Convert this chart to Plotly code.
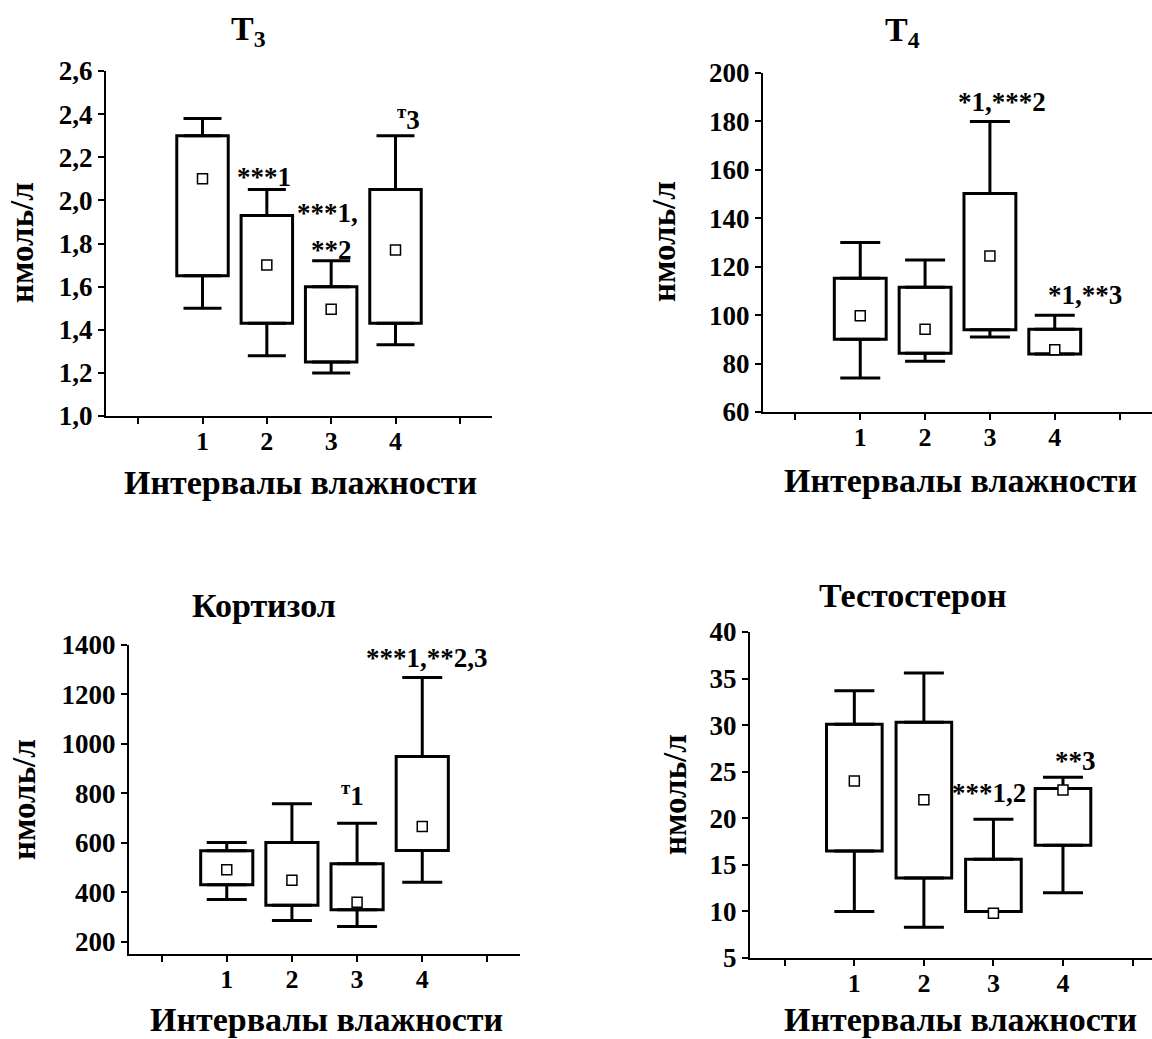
import plotly.graph_objects as go

W, H = 1152, 1039
FONT = "Liberation Serif"

cats = [1, 2, 3, 4]
x_tickvals = [1, 2, 3, 4]
x_ticktext = ["1", "2", "3", "4"]
x_minor_ticks = [0, 1, 2, 3, 4, 5]

# T3
t3_low = [1.50, 1.28, 1.20, 1.33]
t3_q1 = [1.65, 1.43, 1.25, 1.43]
t3_med = [2.10, 1.70, 1.495, 1.77]
t3_q3 = [2.30, 1.93, 1.60, 2.05]
t3_high = [2.38, 2.05, 1.72, 2.30]
t3_yticks = [1.0, 1.2, 1.4, 1.6, 1.8, 2.0, 2.2, 2.4, 2.6]
t3_ytext = ["1,0", "1,2", "1,4", "1,6", "1,8", "2,0", "2,2", "2,4", "2,6"]
t3_ann_text = ["***1", "***1,", "**2", "<sup>т</sup>3"]
t3_ann_x = [1.96, 2.95, 3.01, 4.2]
t3_ann_y = [2.11, 1.94, 1.77, 2.38]

# T4
t4_low = [74, 81, 91, 84]
t4_q1 = [90, 84.3, 94, 84]
t4_med = [99.8, 94.2, 124.4, 85.7]
t4_q3 = [115.2, 111.5, 150.2, 94.2]
t4_high = [130, 122.8, 180, 100]
t4_yticks = [60, 80, 100, 120, 140, 160, 180, 200]
t4_ann_text = ["*1,***2", "*1,**3"]
t4_ann_x = [3.19, 4.47]
t4_ann_y = [188, 108.4]

# Cortisol
cort_low = [370, 286, 261, 440]
cort_q1 = [430, 347, 329, 569]
cort_med = [491, 448, 359, 666]
cort_q3 = [568, 601, 515, 949]
cort_high = [601, 758, 679, 1269]
cort_yticks = [200, 400, 600, 800, 1000, 1200, 1400]
cort_ann_text = ["<sup>т</sup>1", "***1,**2,3"]
cort_ann_x = [2.93, 4.07]
cort_ann_y = [798, 1349]

# Testosterone
test_low = [10, 8.3, 10, 12]
test_q1 = [16.5, 13.6, 10, 17.1]
test_med = [24, 22, 9.8, 23.05]
test_q3 = [30.1, 30.3, 15.6, 23.2]
test_high = [33.7, 35.6, 19.9, 24.4]
test_yticks = [5, 10, 15, 20, 25, 30, 35, 40]
test_ann_text = ["***1,2", "**3"]
test_ann_x = [2.93, 4.18]
test_ann_y = [22.7, 26.1]

titles = ["T<sub>3</sub>", "T<sub>4</sub>", "Кортизол", "Тестостерон"]
xtitle = "Интервалы влажности"
ytitle = "нмоль/л"

def px_x(p):
    return p / W

def px_y(p):
    return 1 - p / H

panels = [
    dict(low=t3_low, q1=t3_q1, med=t3_med, q3=t3_q3, high=t3_high,
         yticks=t3_yticks, ytext=t3_ytext, yrange=[1.0, 2.6], xrange=[-0.5, 5.5],
         xdom=[106, 492], ydom=[416, 71], cap=19,
         ann=(t3_ann_text, t3_ann_x, t3_ann_y),
         title_pos=(248, 31), xt_pos=(300, 483), yt_pos=(22, 243)),
    dict(low=t4_low, q1=t4_q1, med=t4_med, q3=t4_q3, high=t4_high,
         yticks=t4_yticks, ytext=[str(v) for v in t4_yticks], yrange=[60, 200], xrange=[-0.5, 5.5],
         xdom=[763, 1152], ydom=[412, 73], cap=20,
         ann=(t4_ann_text, t4_ann_x, t4_ann_y),
         title_pos=(902, 32), xt_pos=(960, 480), yt_pos=(664, 242)),
    dict(low=cort_low, q1=cort_q1, med=cort_med, q3=cort_q3, high=cort_high,
         yticks=cort_yticks, ytext=[str(v) for v in cort_yticks], yrange=[150, 1400], xrange=[-0.5, 5.5],
         xdom=[129, 520], ydom=[954, 645], cap=20,
         ann=(cort_ann_text, cort_ann_x, cort_ann_y),
         title_pos=(264, 605), xt_pos=(326, 1019), yt_pos=(24, 800)),
    dict(low=test_low, q1=test_q1, med=test_med, q3=test_q3, high=test_high,
         yticks=test_yticks, ytext=[str(v) for v in test_yticks], yrange=[5, 40], xrange=[-0.5, 5.28],
         xdom=[750, 1152], ydom=[958, 632], cap=20,
         ann=(test_ann_text, test_ann_x, test_ann_y),
         title_pos=(913, 595), xt_pos=(960, 1019), yt_pos=(675, 795)),
]

fig = go.Figure()
annotations = []
layout_axes = {}

for i, p in enumerate(panels, start=1):
    xa = "x" if i == 1 else f"x{i}"
    ya = "y" if i == 1 else f"y{i}"
    # Box (interquartile range) as bars
    fig.add_trace(go.Bar(
        x=cats, y=[b - a for a, b in zip(p["q1"], p["q3"])], base=p["q1"],
        width=0.8, marker=dict(color="white", line=dict(color="black", width=3)),
        xaxis=xa, yaxis=ya, showlegend=False, hoverinfo="skip"))
    # Upper whiskers
    fig.add_trace(go.Scatter(
        x=cats, y=p["q3"], mode="markers",
        marker=dict(size=1, color="rgba(0,0,0,0)"),
        error_y=dict(type="data", symmetric=False,
                     array=[h - q for h, q in zip(p["high"], p["q3"])],
                     arrayminus=[0] * 4, color="black", thickness=3, width=p["cap"]),
        xaxis=xa, yaxis=ya, showlegend=False, hoverinfo="skip"))
    # Lower whiskers
    fig.add_trace(go.Scatter(
        x=cats, y=p["q1"], mode="markers",
        marker=dict(size=1, color="rgba(0,0,0,0)"),
        error_y=dict(type="data", symmetric=False,
                     array=[0] * 4,
                     arrayminus=[q - l for q, l in zip(p["q1"], p["low"])],
                     color="black", thickness=3, width=p["cap"]),
        xaxis=xa, yaxis=ya, showlegend=False, hoverinfo="skip"))
    # Median markers
    fig.add_trace(go.Scatter(
        x=cats, y=p["med"], mode="markers",
        marker=dict(symbol="square", size=10, color="white",
                    line=dict(color="black", width=1.5)),
        xaxis=xa, yaxis=ya, showlegend=False, hoverinfo="skip"))

    xkey = "xaxis" if i == 1 else f"xaxis{i}"
    ykey = "yaxis" if i == 1 else f"yaxis{i}"
    layout_axes[xkey] = dict(
        domain=[px_x(p["xdom"][0]), px_x(p["xdom"][1])], anchor=ya, automargin=False,
        range=p["xrange"], tickmode="array", tickvals=x_tickvals, ticktext=x_ticktext,
        showline=True, linecolor="black", linewidth=2, ticks="",
        showgrid=False, zeroline=False, ticklabelstandoff=1,
        minor=dict(tickmode="array", tickvals=x_minor_ticks, ticks="outside",
                   ticklen=6, tickwidth=2, tickcolor="black", showgrid=False),
        tickfont=dict(family=FONT, size=26, color="black", weight="bold"))
    layout_axes[ykey] = dict(
        domain=[px_y(p["ydom"][0]), px_y(p["ydom"][1])], anchor=xa, automargin=False,
        range=p["yrange"], tickmode="array", tickvals=p["yticks"], ticktext=p["ytext"],
        showline=True, linecolor="black", linewidth=2, ticks="outside",
        ticklen=6, tickwidth=2, tickcolor="black", showgrid=False, zeroline=False,
        tickfont=dict(family=FONT, size=27, color="black", weight="bold"))

    texts, axs, ays = p["ann"]
    for t, ax, ay in zip(texts, axs, ays):
        annotations.append(dict(text=t, x=ax, y=ay, xref=xa, yref=ya, showarrow=False,
                                xanchor="center", yanchor="middle",
                                font=dict(family=FONT, size=27, color="black", weight="bold")))
    tx, ty = p["title_pos"]
    annotations.append(dict(text=titles[i - 1], x=px_x(tx), y=px_y(ty), xref="paper", yref="paper",
                            showarrow=False, xanchor="center", yanchor="middle",
                            font=dict(family=FONT, size=34, color="black", weight="bold")))
    xx, xy = p["xt_pos"]
    annotations.append(dict(text=xtitle, x=px_x(xx), y=px_y(xy), xref="paper", yref="paper",
                            showarrow=False, xanchor="center", yanchor="middle",
                            font=dict(family=FONT, size=34, color="black", weight="bold")))
    yx, yy = p["yt_pos"]
    annotations.append(dict(text=ytitle, x=px_x(yx), y=px_y(yy), xref="paper", yref="paper",
                            showarrow=False, xanchor="center", yanchor="middle", textangle=-90,
                            font=dict(family=FONT, size=33, color="black", weight="bold")))

fig.update_layout(
    width=W, height=H, margin=dict(l=0, r=0, t=0, b=0, autoexpand=False),
    paper_bgcolor="white", plot_bgcolor="white",
    font=dict(family=FONT, color="black"),
    annotations=annotations, showlegend=False, barmode="overlay",
    **layout_axes)

fig.write_html("out.html", config={"displayModeBar": False},
               post_script="document.body.style.margin='0';")
